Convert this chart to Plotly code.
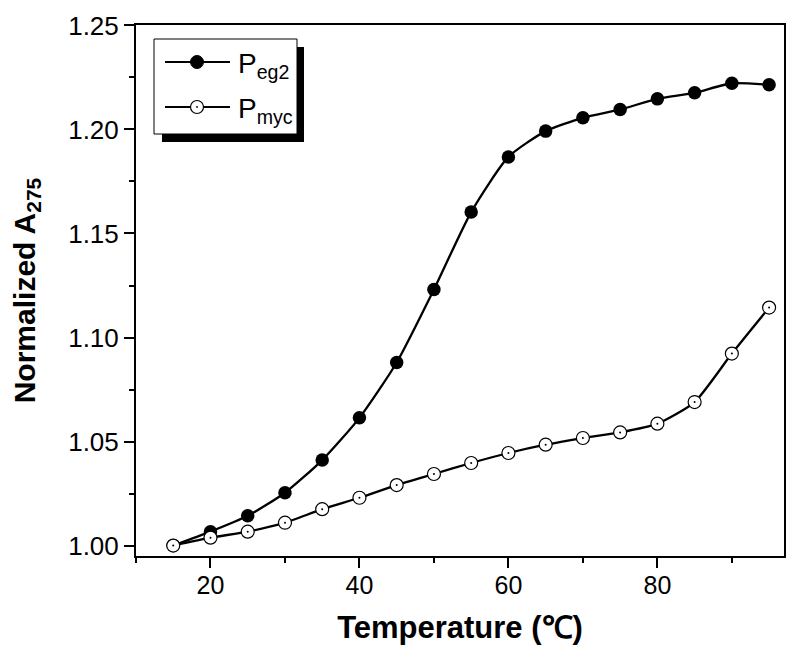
import plotly.graph_objects as go

# ---- data ----
temperature = [15, 20, 25, 30, 35, 40, 45, 50, 55, 60, 65, 70, 75, 80, 85, 90, 95]
p_eg2 = [1.000, 1.0067, 1.0143, 1.0254, 1.0411, 1.0614, 1.0880, 1.1231, 1.1603,
         1.1868, 1.1992, 1.2056, 1.2096, 1.2147, 1.2176, 1.2222, 1.2215]
p_myc = [1.000, 1.0038, 1.0067, 1.0110, 1.0175, 1.0230, 1.0291, 1.0344, 1.0397,
         1.0445, 1.0485, 1.0517, 1.0544, 1.0586, 1.0690, 1.0923, 1.1144]
x_ticks = [20, 40, 60, 80]
y_ticks = [1.00, 1.05, 1.10, 1.15, 1.20, 1.25]
series_names = ["P<sub>eg2</sub>", "P<sub>myc</sub>"]

FONT = "Liberation Sans, Arial, Helvetica, sans-serif"
OFF = 8  # the page body adds an 8px margin
W, H = 800, 663
L, T = 136 - OFF, 25 - OFF
R = W - (784 - OFF)
B = H - (556 - OFF)
PW, PH = W - L - R, H - T - B


def px(x):
    return (x - OFF - L) / PW


def py(y):
    return (H - B - (y - OFF)) / PH


fig = go.Figure()

fig.add_trace(go.Scatter(
    x=temperature, y=p_eg2, mode="lines+markers", name="P_eg2",
    line=dict(color="black", width=2.3, shape="spline", smoothing=0.6),
    marker=dict(symbol="circle", size=13.5, color="black"),
    showlegend=False,
))
fig.add_trace(go.Scatter(
    x=temperature, y=p_myc, mode="lines+markers", name="P_myc",
    line=dict(color="black", width=2.3, shape="spline", smoothing=0.6),
    marker=dict(symbol="circle", size=13, color="white",
                line=dict(color="black", width=1.2)),
    showlegend=False,
))
fig.add_trace(go.Scatter(
    x=temperature, y=p_myc, mode="markers", hoverinfo="skip",
    marker=dict(symbol="circle", size=2, color="black"),
    showlegend=False,
))

# ---- legend drawn manually (box with drop shadow) ----
shapes = []
shapes.append(dict(type="rect", xref="paper", yref="paper",
                   x0=px(162), x1=px(304), y0=py(142), y1=py(47),
                   fillcolor="black", line=dict(width=0), layer="above"))
shapes.append(dict(type="rect", xref="paper", yref="paper",
                   x0=px(154), x1=px(297), y0=py(134), y1=py(39),
                   fillcolor="white", line=dict(color="black", width=1), layer="above"))
rows = [62, 107]
for i, yy in enumerate(rows):
    shapes.append(dict(type="line", xref="paper", yref="paper",
                       x0=px(165), x1=px(230), y0=py(yy), y1=py(yy),
                       line=dict(color="black", width=2), layer="above"))
    if i == 0:
        shapes.append(dict(type="circle", xref="paper", yref="paper",
                           x0=px(190.5), x1=px(203.5), y0=py(68.5), y1=py(55.5),
                           fillcolor="black", line=dict(color="black", width=1),
                           layer="above"))
    else:
        shapes.append(dict(type="circle", xref="paper", yref="paper",
                           x0=px(190.5), x1=px(203.5), y0=py(113.5), y1=py(100.5),
                           fillcolor="white", line=dict(color="black", width=1.2),
                           layer="above"))
        shapes.append(dict(type="circle", xref="paper", yref="paper",
                           x0=px(196.3), x1=px(197.7), y0=py(107.7), y1=py(106.3),
                           fillcolor="black", line=dict(color="black", width=0.5),
                           layer="above"))

annotations = []
for name, yy in zip(series_names, rows):
    annotations.append(dict(
        text=name, xref="paper", yref="paper", x=px(236), y=py(yy + 3),
        xanchor="left", yanchor="middle", showarrow=False,
        font=dict(family=FONT, size=28, color="black"),
    ))

fig.update_layout(
    width=W, height=H,
    margin=dict(l=L, r=R, t=T, b=B, autoexpand=False),
    paper_bgcolor="white", plot_bgcolor="white",
    shapes=shapes, annotations=annotations,
    font=dict(family=FONT, color="black"),
)

fig.update_xaxes(
    range=[10, 97], tickmode="array", tickvals=x_ticks,
    ticktext=[str(v) for v in x_ticks],
    ticks="outside", ticklen=10, tickwidth=2, tickcolor="black",
    minor=dict(ticks="outside", ticklen=5, tickwidth=1.5, tickcolor="black",
               dtick=10, tick0=0),
    showline=True, linecolor="black", linewidth=2, mirror=True,
    showgrid=False, zeroline=False,
    tickfont=dict(family=FONT, size=25, color="black"),
    ticklabelstandoff=-4,
    title=dict(text="Temperature (℃)", standoff=18,
               font=dict(family=FONT, size=31, color="black", weight="bold")),
)
fig.update_yaxes(
    range=[0.995, 1.2502], tickmode="array", tickvals=y_ticks,
    ticktext=[f"{v:.2f}" for v in y_ticks],
    ticks="outside", ticklen=10, tickwidth=2, tickcolor="black",
    minor=dict(ticks="outside", ticklen=5, tickwidth=1.5, tickcolor="black",
               dtick=0.025, tick0=1.0),
    showline=True, linecolor="black", linewidth=2, mirror=True,
    showgrid=False, zeroline=False,
    tickfont=dict(family=FONT, size=26, color="black"),
    ticklabelstandoff=0,
    title=dict(text="Normalized A<sub>275</sub>", standoff=26,
               font=dict(family=FONT, size=30, color="black", weight="bold")),
)

fig.write_html("out.html")
